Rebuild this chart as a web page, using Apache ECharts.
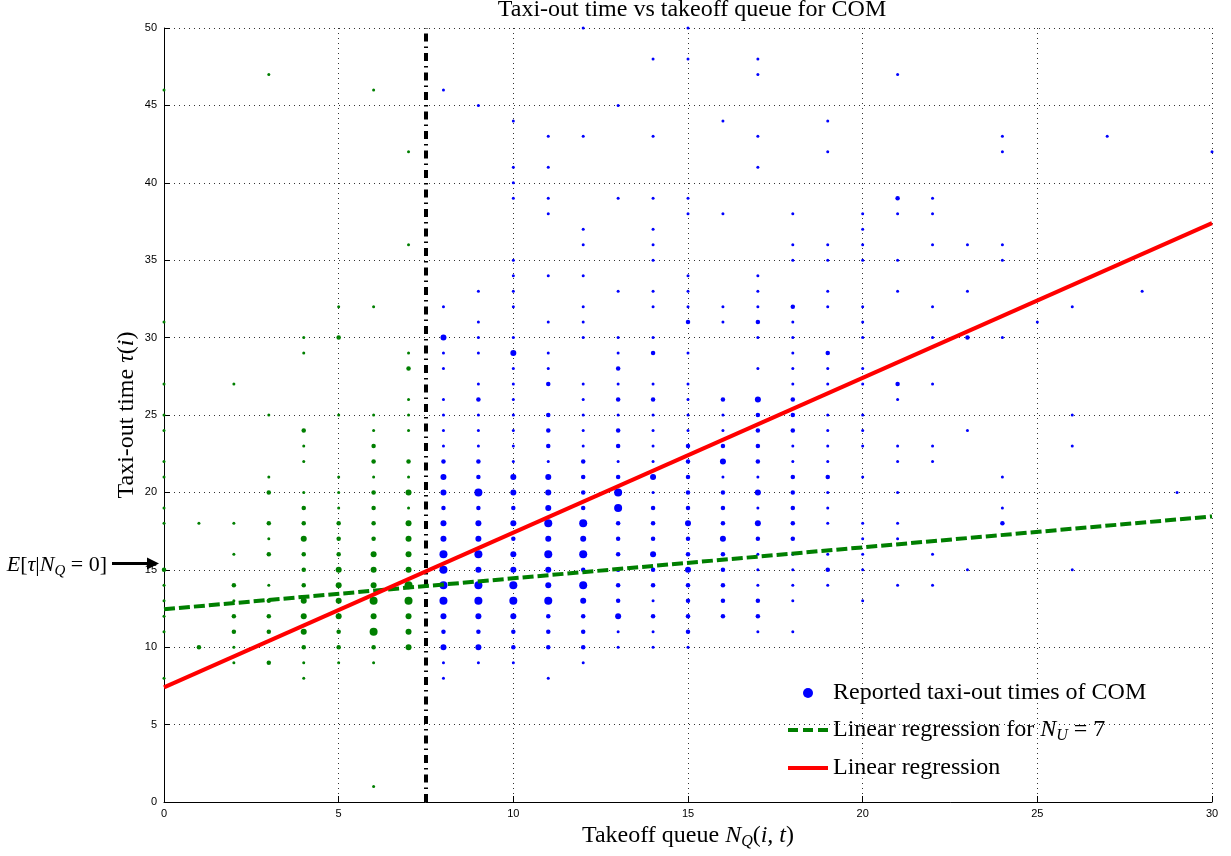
<!DOCTYPE html>
<html>
<head>
<meta charset="utf-8">
<script src="https://cdn.jsdelivr.net/npm/echarts@6/dist/echarts.min.js"></script>
<style>
html,body{margin:0;padding:0;background:#fff;}
#chart{width:1231px;height:856px;}
</style>
</head>
<body>
<div id="chart"></div>
<script>
// ---- data: [takeoff queue, taxi-out time, dot size class] ----
const greenPoints = [
 [0,46,1],[0,31,1],[0,27,1],[0,25,1],[0,24,1],[0,22,1],[0,21,1],[0,19,1],[0,18,1],[0,15,2],[0,14,1],[0,13,1],[0,12,1],[0,11,1],[0,8,1],
 [1,18,1],[1,10,2],
 [2,27,1],[2,18,1],[2,16,1],[2,14,2],[2,13,1],[2,12,2],[2,11,2],[2,10,1],[2,9,1],
 [3,47,1],[3,25,1],[3,21,1],[3,20,2],[3,18,2],[3,17,1],[3,16,2],[3,14,1],[3,13,2],[3,12,2],[3,11,2],[3,9,2],
 [4,30,1],[4,29,1],[4,24,2],[4,23,1],[4,22,1],[4,20,1],[4,19,2],[4,18,2],[4,17,3],[4,16,2],[4,15,2],[4,14,2],[4,13,3],[4,12,3],[4,11,3],[4,10,2],[4,9,1],[4,8,1],
 [5,32,1],[5,30,2],[5,25,1],[5,21,1],[5,20,1],[5,19,1],[5,18,2],[5,17,2],[5,16,2],[5,15,3],[5,14,3],[5,13,3],[5,12,3],[5,11,2],[5,10,2],[5,9,1],
 [6,46,1],[6,32,1],[6,25,1],[6,24,1],[6,23,2],[6,22,2],[6,21,1],[6,20,2],[6,19,2],[6,18,2],[6,17,2],[6,16,3],[6,15,3],[6,14,3],[6,13,4],[6,12,3],[6,11,4],[6,10,2],[6,9,1],[6,1,1],
 [7,42,1],[7,36,1],[7,29,1],[7,28,2],[7,26,1],[7,25,1],[7,24,1],[7,22,2],[7,21,1],[7,20,3],[7,19,1],[7,18,3],[7,17,3],[7,16,3],[7,15,3],[7,14,4],[7,13,4],[7,12,3],[7,11,3],[7,10,3]
];
const bluePoints = [
 [8,46,1],[8,32,1],[8,30,3],[8,29,1],[8,28,1],[8,26,1],[8,25,1],[8,24,1],[8,23,1],[8,22,2],[8,21,3],[8,20,3],[8,19,2],[8,18,3],[8,17,3],[8,16,4],[8,15,4],[8,14,4],[8,13,4],[8,12,3],[8,11,2],[8,10,3],[8,9,1],[8,8,1],
 [9,45,1],[9,33,1],[9,31,1],[9,30,1],[9,29,1],[9,27,1],[9,26,2],[9,25,1],[9,24,1],[9,23,1],[9,22,2],[9,21,2],[9,20,4],[9,19,2],[9,18,3],[9,17,3],[9,16,4],[9,15,3],[9,14,4],[9,13,4],[9,12,3],[9,11,2],[9,10,3],[9,9,1],
 [10,44,1],[10,41,1],[10,40,1],[10,39,1],[10,35,1],[10,34,1],[10,33,1],[10,32,1],[10,30,1],[10,29,3],[10,28,1],[10,27,1],[10,26,1],[10,25,1],[10,24,1],[10,23,1],[10,22,1],[10,21,3],[10,20,3],[10,19,2],[10,18,3],[10,17,2],[10,16,3],[10,15,3],[10,14,4],[10,13,4],[10,12,3],[10,11,2],[10,10,2],[10,9,1],
 [11,43,1],[11,41,1],[11,39,1],[11,38,1],[11,34,1],[11,31,1],[11,29,1],[11,28,1],[11,27,2],[11,25,2],[11,24,2],[11,23,2],[11,22,1],[11,21,3],[11,20,3],[11,19,3],[11,18,4],[11,17,3],[11,16,4],[11,15,3],[11,14,3],[11,13,4],[11,12,2],[11,11,2],[11,10,2],[11,8,1],
 [12,50,1],[12,43,1],[12,37,1],[12,36,1],[12,34,1],[12,32,1],[12,31,1],[12,30,1],[12,27,1],[12,26,1],[12,25,1],[12,24,1],[12,23,1],[12,22,2],[12,21,2],[12,20,2],[12,19,2],[12,18,4],[12,17,3],[12,16,4],[12,15,2],[12,14,4],[12,13,3],[12,12,2],[12,11,2],[12,10,2],[12,9,1],
 [13,45,1],[13,39,1],[13,33,1],[13,30,1],[13,29,1],[13,28,2],[13,27,1],[13,26,2],[13,25,1],[13,24,2],[13,23,2],[13,22,1],[13,21,2],[13,20,4],[13,19,4],[13,18,2],[13,17,2],[13,16,2],[13,15,2],[13,14,2],[13,13,2],[13,12,3],[13,11,1],[13,10,1],
 [14,48,1],[14,43,1],[14,39,1],[14,37,1],[14,36,1],[14,35,1],[14,33,1],[14,32,1],[14,30,1],[14,29,2],[14,27,1],[14,26,2],[14,25,1],[14,24,1],[14,23,1],[14,22,1],[14,21,3],[14,20,1],[14,19,2],[14,18,2],[14,17,2],[14,16,3],[14,15,2],[14,14,2],[14,13,1],[14,12,2],[14,11,1],[14,10,1],
 [15,50,1],[15,48,1],[15,39,1],[15,38,1],[15,34,1],[15,33,1],[15,32,1],[15,31,2],[15,29,1],[15,27,1],[15,26,1],[15,25,1],[15,24,1],[15,23,2],[15,22,2],[15,21,2],[15,20,2],[15,19,2],[15,18,3],[15,17,2],[15,16,2],[15,15,3],[15,14,2],[15,13,2],[15,12,2],[15,11,2],[15,10,1],
 [16,44,1],[16,38,1],[16,32,1],[16,31,1],[16,26,2],[16,25,1],[16,24,1],[16,23,2],[16,22,3],[16,21,1],[16,20,2],[16,19,2],[16,18,2],[16,17,3],[16,16,2],[16,15,2],[16,14,2],[16,13,2],[16,12,2],
 [17,48,1],[17,47,1],[17,43,1],[17,41,1],[17,34,1],[17,33,1],[17,32,1],[17,31,2],[17,30,1],[17,28,1],[17,26,3],[17,25,2],[17,24,2],[17,23,2],[17,22,2],[17,21,1],[17,20,3],[17,19,1],[17,18,3],[17,17,2],[17,16,1],[17,15,1],[17,14,1],[17,13,2],[17,12,2],[17,11,1],
 [18,38,1],[18,36,1],[18,35,1],[18,32,2],[18,31,1],[18,30,1],[18,29,1],[18,28,1],[18,27,1],[18,26,2],[18,25,2],[18,24,2],[18,23,1],[18,22,1],[18,21,2],[18,20,2],[18,19,2],[18,18,2],[18,17,2],[18,16,1],[18,15,1],[18,14,1],[18,13,1],[18,11,1],
 [19,44,1],[19,42,1],[19,36,1],[19,35,1],[19,33,1],[19,32,1],[19,29,2],[19,28,1],[19,27,1],[19,25,1],[19,24,1],[19,23,1],[19,22,1],[19,21,2],[19,20,1],[19,19,1],[19,18,1],[19,16,1],[19,15,2],[19,14,1],
 [20,38,1],[20,37,1],[20,36,1],[20,35,1],[20,32,1],[20,31,1],[20,30,1],[20,28,1],[20,27,1],[20,25,1],[20,24,1],[20,23,1],[20,21,1],[20,18,1],[20,17,1],[20,16,1],[20,15,1],[20,13,1],
 [21,47,1],[21,39,2],[21,38,1],[21,35,1],[21,33,1],[21,27,2],[21,26,1],[21,23,1],[21,22,1],[21,20,1],[21,18,1],[21,17,1],[21,14,1],
 [22,39,1],[22,38,1],[22,36,1],[22,32,1],[22,30,1],[22,27,1],[22,23,1],[22,22,1],[22,16,1],[22,14,1],
 [23,36,1],[23,33,1],[23,30,2],[23,24,1],[23,15,1],
 [24,43,1],[24,42,1],[24,36,1],[24,35,1],[24,30,1],[24,21,1],[24,19,1],[24,18,2],
 [25,31,1],
 [26,32,1],[26,25,1],[26,23,1],[26,15,1],
 [27,43,1],[28,33,1],[29,20,1],[30,42,1]
];
// regression lines (end points)
const regressionAll = [[0,7.4],[30,37.4]];
const regressionNu7 = [[0,12.45],[30,18.45]];
// vertical separator N_U = 7.5
const separator = [[7.5,0],[7.5,50]];
const eTauAtZero = 15.4;
const xTicks = {min:0, max:30, interval:5};
const yTicks = {min:0, max:50, interval:5};
const legendNames = ['Reported taxi-out times of COM','Linear regression for N_U = 7','Linear regression'];

const sizePx = {1:3, 2:4.5, 3:6, 4:8};
const serif = "'Liberation Serif', 'Times New Roman', serif";
const sans = "'Liberation Sans', Arial, sans-serif";
const FS = 24;

const chart = echarts.init(document.getElementById('chart'), null, {renderer:'canvas'});
const mathRich = {
  i:{fontStyle:'italic', fontFamily:serif, fontSize:FS, color:'#000'},
  s:{fontStyle:'italic', fontFamily:serif, fontSize:16, color:'#000', padding:[12,0,0,0]},
  n:{fontFamily:serif, fontSize:FS, color:'#000'}
};
const option = {
  animation:false,
  backgroundColor:'#fff',
  title:{
    text:'Taxi-out time vs takeoff queue for COM',
    left:692, textAlign:'center', top:-2, padding:0,
    textStyle:{fontFamily:serif, fontSize:FS, fontWeight:'normal', color:'#000'}
  },
  grid:{left:164, right:19, top:28, bottom:54},
  xAxis:{
    type:'value', min:xTicks.min, max:xTicks.max, interval:xTicks.interval,
    name:'{n|Takeoff queue }{i|N}{s|Q}{n|(}{i|i, t}{n|)}',
    nameLocation:'middle', nameGap:15,
    nameTextStyle:{fontFamily:serif, fontSize:FS, color:'#000', rich:mathRich},
    axisLine:{show:true, lineStyle:{color:'#000', width:1}},
    axisTick:{show:true, inside:true, length:6, lineStyle:{color:'#000'}},
    axisLabel:{fontFamily:sans, fontSize:11, color:'#000', margin:6},
    splitLine:{show:true, lineStyle:{color:'#333', type:[1,4], width:1}}
  },
  yAxis:{
    type:'value', min:yTicks.min, max:yTicks.max, interval:yTicks.interval,
    name:'{n|Taxi-out time }{i|τ}{n|(}{i|i}{n|)}',
    nameLocation:'middle', nameGap:25, nameRotate:90, nameMoveOverlap:false,
    nameTextStyle:{fontFamily:serif, fontSize:FS, color:'#000', rich:mathRich},
    axisLine:{show:true, lineStyle:{color:'#000', width:1}},
    axisTick:{show:true, inside:true, length:6, lineStyle:{color:'#000'}},
    axisLabel:{fontFamily:sans, fontSize:11, color:'#000', margin:7},
    splitLine:{show:true, lineStyle:{color:'#333', type:[1,4], width:1}}
  },
  legend:{
    orient:'vertical', left:786, top:680, padding:0,
    itemWidth:40, itemHeight:10, itemGap:11,
    textStyle:{fontFamily:serif, fontSize:FS, color:'#000', lineHeight:26, rich:mathRich},
    formatter:function(name){
      if(name===legendNames[1]) return '{n|Linear regression for }{i|N}{s|U}{n| = 7}';
      return name;
    },
    data:[
      {name:legendNames[0], icon:'circle', itemStyle:{color:'#0000ff', opacity:1}},
      {name:legendNames[1], itemStyle:{opacity:0}, lineStyle:{width:4, type:[10,5], color:'#007f00'}},
      {name:legendNames[2], itemStyle:{opacity:0}, lineStyle:{width:4, color:'#ff0000'}}
    ]
  },
  series:[
    {
      name:'green-points', type:'scatter',
      data:greenPoints, symbol:'circle',
      symbolSize:function(v){return sizePx[v[2]];},
      itemStyle:{color:'#007f00', opacity:1}, z:2
    },
    {
      name:legendNames[0], type:'scatter',
      data:bluePoints, symbol:'circle',
      symbolSize:function(v){return sizePx[v[2]];},
      itemStyle:{color:'#0000ff', opacity:1}, z:2
    },
    {
      name:'separator', type:'line', data:separator, symbol:'none',
      lineStyle:{color:'#000', width:4, type:[8,5,1.5,5], cap:'butt'}, z:3, silent:true
    },
    {
      name:legendNames[1], type:'line', data:regressionNu7, symbol:'none',
      lineStyle:{color:'#007f00', width:4, type:[11,4]}, itemStyle:{color:'#007f00'}, z:4
    },
    {
      name:legendNames[2], type:'line', data:regressionAll, symbol:'none',
      lineStyle:{color:'#ff0000', width:4}, itemStyle:{color:'#ff0000'}, z:5
    }
  ]
};
chart.setOption(option);

// annotation E[tau | N_Q = 0] with arrow pointing at the y-axis
const p = chart.convertToPixel({gridIndex:0}, [0, eTauAtZero]);
chart.setOption({
  graphic:[
    {
      type:'text', x:p[0]-57, y:p[1]+2,
      style:{
        text:'{i|E}{n|[}{i|τ}{n||}{i|N}{s|Q}{n| = 0]}',
        rich:{
          i:{fontStyle:'italic', fontFamily:serif, fontSize:22, color:'#000'},
          s:{fontStyle:'italic', fontFamily:serif, fontSize:15, color:'#000', padding:[11,0,0,0]},
          n:{fontFamily:serif, fontSize:22, color:'#000'}
        },
        align:'right', verticalAlign:'middle'
      }
    },
    {
      type:'line', shape:{x1:p[0]-52, y1:p[1], x2:p[0]-14, y2:p[1]},
      style:{stroke:'#000', lineWidth:3}
    },
    {
      type:'polygon',
      shape:{points:[[p[0]-5,p[1]],[p[0]-17,p[1]-6],[p[0]-17,p[1]+6]]},
      style:{fill:'#000'}
    }
  ]
});
</script>
</body>
</html>
